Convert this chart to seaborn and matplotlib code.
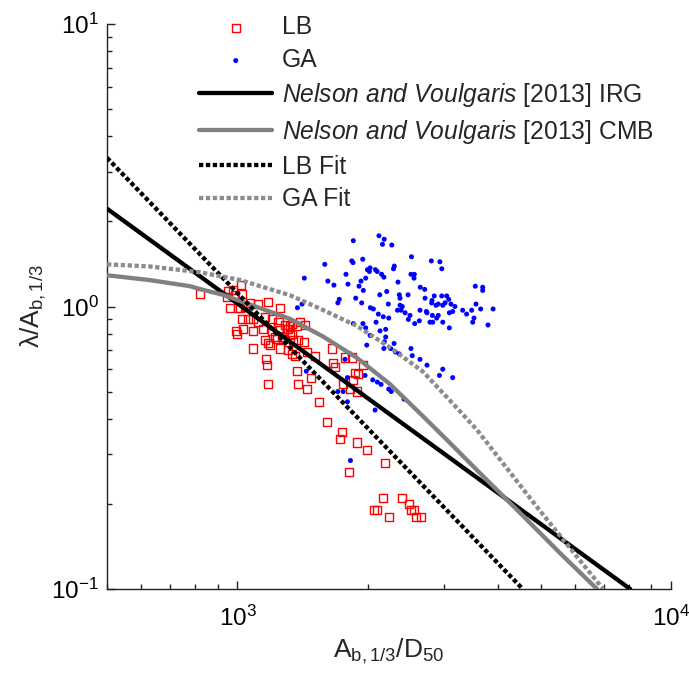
import matplotlib
matplotlib.use("Agg")
import matplotlib.pyplot as plt
import seaborn as sns
from matplotlib.ticker import LogLocator, NullFormatter

# ---- laboratory (LB) measurements ----
lb_x = [819, 1017, 953, 987, 1022, 945, 961, 1069, 1117, 1175, 1254, 1013, 1041,
        1022, 1059, 1088, 1117, 1158, 1200, 1243, 1288, 1322, 1394, 1432, 994, 997,
        1031, 1088, 1146, 1200, 1243, 1299, 1322, 1221, 1158, 1178, 1189, 1232, 1276,
        1345, 1381, 1424, 1088, 1254, 1310, 1334, 1357, 1444, 1510, 1650, 1164, 1168,
        1370, 1476, 1381, 1444, 1178, 1664, 1679, 1770, 1835, 1951, 1867, 1900, 1850,
        1753, 1818, 1890, 1544, 1607, 1745, 1724, 1890, 1987, 2190, 1811, 2163, 2393,
        2487, 2066, 2095, 2240, 2509, 2554, 2581, 2646, 976, 1003, 1334, 1370, 1310,
        1334, 1265]
lb_y = [1.11, 1.19, 1.13, 1.10, 1.11, 1.08, 0.99, 1.03, 1.02, 1.04, 0.99, 0.99, 1.00,
        0.90, 0.90, 0.90, 0.88, 0.92, 0.90, 0.88, 0.86, 0.85, 0.88, 0.86, 0.82, 0.80,
        0.83, 0.82, 0.83, 0.82, 0.84, 0.83, 0.79, 0.78, 0.76, 0.74, 0.73, 0.77, 0.77,
        0.76, 0.76, 0.75, 0.71, 0.71, 0.70, 0.68, 0.67, 0.69, 0.67, 0.71, 0.65, 0.62,
        0.59, 0.56, 0.53, 0.51, 0.53, 0.63, 0.61, 0.66, 0.66, 0.62, 0.58, 0.575, 0.55,
        0.53, 0.51, 0.50, 0.46, 0.39, 0.36, 0.34, 0.33, 0.31, 0.28, 0.26, 0.21, 0.21,
        0.20, 0.19, 0.19, 0.18, 0.19, 0.19, 0.18, 0.18, 1.14, 0.99, 0.87, 0.85, 0.83,
        0.80, 0.78]

# ---- field (GA) measurements ----
ga_x = [2120, 2180, 2160, 2270, 1850, 1590, 1835, 1847, 1945, 2520, 2800, 2930, 2960,
        1426, 1616, 1669, 1779, 1798, 1907, 1927, 1976, 1994, 2022, 2015, 2080, 2100,
        2150, 2176, 2300, 2290, 2346, 2513, 2558, 2554, 1951, 1874, 1934, 1717, 1704,
        2129, 2209, 2362, 2371, 2474, 2640, 2703, 2708, 2844, 2810, 2805, 2959, 3038,
        3071, 3536, 3678, 3678, 1375, 1409, 2025, 2058, 2228, 2371, 2339, 2384, 2400,
        2436, 2500, 2478, 2563, 2627, 2636, 2727, 2736, 2815, 2870, 2905, 2975, 3012,
        3108, 3136, 3174, 3081, 2905, 2880, 2780, 2821, 2975, 3081, 3307, 3377, 3469,
        3549, 3639, 3488, 3512, 3783, 3887, 2113, 2169, 2233, 2088, 2132, 2197, 2197,
        2022, 1947, 1976, 1850, 1987, 2182, 2297, 2256, 2313, 2359, 2513, 2530, 2636,
        2736, 2975, 2923, 3136, 2051, 2102, 2144, 2233, 2263, 2421, 2077, 1818, 1770,
        1969, 1441, 1753, 1704, 1793, 1822, 1793, 2176]
ga_y = [1.78, 1.73, 1.66, 1.65, 1.71, 1.41, 1.45, 1.43, 1.47, 1.50, 1.45, 1.44, 1.36,
        1.26, 1.23, 1.19, 1.30, 1.20, 1.18, 1.23, 1.26, 1.35, 1.37, 1.33, 1.35, 1.33,
        1.30, 1.27, 1.39, 1.36, 1.22, 1.30, 1.30, 1.26, 1.14, 1.07, 1.03, 1.06, 1.03,
        1.10, 1.13, 1.10, 1.07, 1.10, 1.17, 1.15, 1.07, 1.09, 1.05, 1.03, 1.09, 1.09,
        1.06, 1.18, 1.17, 1.14, 0.99, 1.02, 0.99, 0.98, 1.02, 1.01, 0.97, 0.97, 1.00,
        0.95, 0.93, 0.90, 0.87, 0.89, 0.97, 0.96, 0.95, 0.93, 1.01, 1.02, 1.01, 1.03,
        1.02, 0.96, 1.00, 0.95, 0.93, 0.91, 0.88, 0.88, 0.88, 0.84, 0.97, 0.94, 0.97,
        1.02, 0.98, 0.88, 0.91, 0.86, 0.98, 0.94, 0.92, 0.91, 0.88, 0.82, 0.83, 0.78,
        0.79, 0.87, 0.84, 0.87, 0.73, 0.75, 0.74, 0.71, 0.69, 0.68, 0.71, 0.67, 0.65,
        0.62, 0.60, 0.57, 0.56, 0.55, 0.54, 0.53, 0.51, 0.50, 0.47, 0.43, 0.68, 0.65,
        0.57, 0.59, 0.50, 0.50, 0.46, 0.285, 0.56, 0.71]

# ---- predictors and fits ----
irg_x = [500, 8050]
irg_y = [2.22, 0.10]
cmb_x = [500, 628, 777, 819, 926, 1013, 1109, 1322, 1575, 1886, 2248, 2678, 3042,
         3626, 4485, 5546, 6750]
cmb_y = [1.29, 1.24, 1.18, 1.153, 1.10, 1.046, 0.996, 0.904, 0.783, 0.658, 0.531,
         0.409, 0.337, 0.257, 0.186, 0.134, 0.10]
lbfit_x = [500, 4550]
lbfit_y = [3.36, 0.10]
gafit_x = [500, 628, 819, 1013, 1322, 1575, 1886, 2248, 2678, 3209, 3567, 4988, 6970]
gafit_y = [1.41, 1.386, 1.322, 1.241, 1.096, 0.972, 0.853, 0.716, 0.588, 0.437,
           0.366, 0.189, 0.10]

sns.set_style("ticks")
plt.rcParams["font.family"] = ["Liberation Sans", "DejaVu Sans"]
plt.rcParams["mathtext.fontset"] = "custom"
plt.rcParams["mathtext.rm"] = "Liberation Sans"
plt.rcParams["mathtext.it"] = "Liberation Sans:italic"
plt.rcParams["mathtext.default"] = "regular"
plt.rcParams["axes.unicode_minus"] = False

fig = plt.figure(figsize=(6.89, 6.77), dpi=100)
ax = fig.add_axes([107 / 689, 88 / 677, 564 / 689, 565 / 677])
ax.set_xscale("log")
ax.set_yscale("log")

sns.scatterplot(x=lb_x, y=lb_y, marker="s", s=34, facecolor="none",
                edgecolor="red", linewidth=1.0, ax=ax, label="LB", zorder=2)
sns.scatterplot(x=ga_x, y=ga_y, marker="o", s=13, color="blue",
                edgecolor="none", ax=ax, label="GA", zorder=2)

nv = r"$\it{Nelson\ and\ Voulgaris}$ [2013]"
dot = (0, (1.0, 0.6))
sns.lineplot(x=irg_x, y=irg_y, color="black", linewidth=3.1, sort=False,
             estimator=None, ax=ax, label=nv + " IRG", zorder=3)
sns.lineplot(x=cmb_x, y=cmb_y, color="#808080", linewidth=3.1, sort=False,
             estimator=None, ax=ax, label=nv + " CMB", zorder=3)
sns.lineplot(x=lbfit_x, y=lbfit_y, color="black", linewidth=3.1, linestyle=dot,
             sort=False, estimator=None, ax=ax, label="LB Fit", zorder=3)
sns.lineplot(x=gafit_x, y=gafit_y, color="#8c8c8c", linewidth=3.1, linestyle=dot,
             sort=False, estimator=None, ax=ax, label="GA Fit", zorder=3)
for ln in ax.get_lines():
    ln.set_solid_joinstyle("round")
    ln.set_dash_joinstyle("round")

ax.set_xlim(500, 1e4)
ax.set_ylim(0.1, 10)
ax.xaxis.set_major_locator(LogLocator(base=10, numticks=10))
ax.xaxis.set_minor_locator(LogLocator(base=10, subs=range(2, 10), numticks=10))
ax.xaxis.set_minor_formatter(NullFormatter())
ax.yaxis.set_minor_formatter(NullFormatter())

for side in ("top", "right"):
    ax.spines[side].set_visible(False)
for side in ("left", "bottom"):
    ax.spines[side].set_linewidth(1.0)
    ax.spines[side].set_color("#222222")
ax.tick_params(which="both", direction="in", top=False, right=False,
               colors="#222222", labelcolor="black", width=1.0)
ax.tick_params(which="major", length=6, labelsize=17.5)
ax.tick_params(which="minor", length=3.5)
ax.tick_params(axis="x", which="major", pad=12)
ax.tick_params(axis="y", which="major", pad=6)

ax.set_xlabel("A$_{b,1/3}$/D$_{50}$", fontsize=19, labelpad=4)
ax.set_ylabel("λ/A$_{b,1/3}$", fontsize=19, labelpad=2)

ax.legend(loc="upper left", bbox_to_anchor=(0.1465, 1.033), frameon=False,
          fontsize=17.7, handlelength=2.95, handletextpad=0.4,
          labelspacing=0.36, borderaxespad=0, scatterpoints=1)

fig.savefig("out.png", dpi=100)
